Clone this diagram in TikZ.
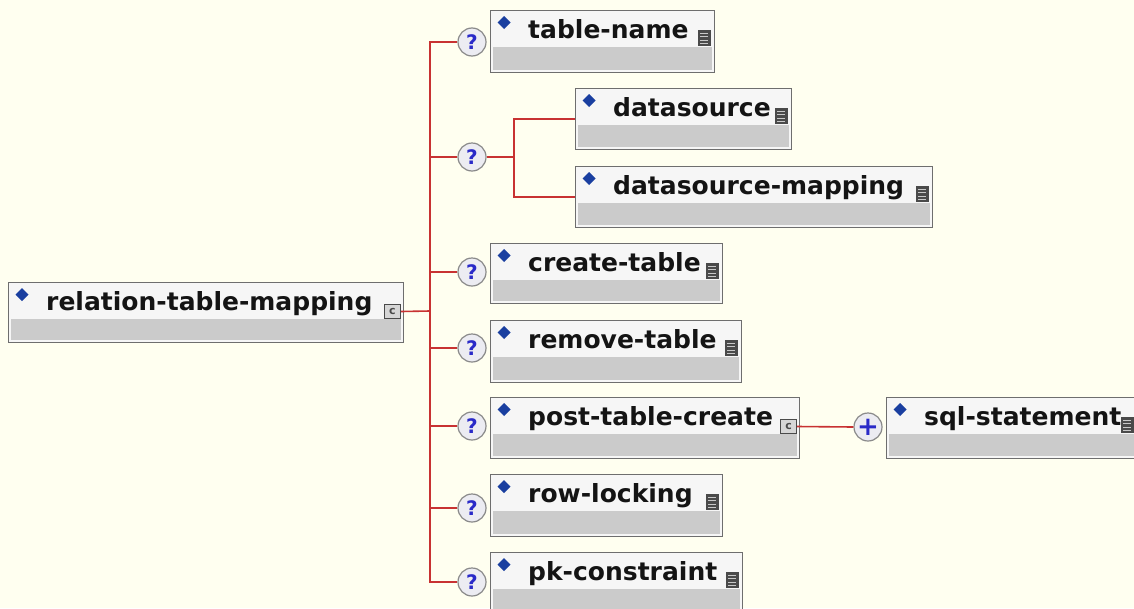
\documentclass[tikz,border=0pt]{standalone}
\usepackage{fontspec}
\setmainfont{DejaVu Sans}
\usetikzlibrary{calc}
\definecolor{bg}{HTML}{FFFFF0}
\definecolor{boxborder}{HTML}{6E6E6E}
\definecolor{headfill}{HTML}{F6F6F6}
\definecolor{bandfill}{HTML}{CBCBCB}
\definecolor{linered}{HTML}{C83232}
\definecolor{dblue}{HTML}{1A3FA0}
\definecolor{qblue}{HTML}{2A2AC8}
\definecolor{circfill}{HTML}{ECECF2}
\definecolor{circborder}{HTML}{8A8A8A}
\definecolor{icondark}{HTML}{4A4A4A}
\definecolor{iconlight}{HTML}{C8C8C8}
\definecolor{cfill}{HTML}{D6D6D6}
\definecolor{txt}{HTML}{141414}
\tikzset{
  elembox/.style={draw=boxborder, line width=1.4pt, fill=headfill, rectangle, inner sep=0pt, anchor=north west},
  lbl/.style={font=\fontsize{25}{30}\selectfont\bfseries, text=txt, inner sep=0pt, anchor=base west},
  conn/.style={draw=linered, line width=1.6pt},
  occ/.style={circle, draw=circborder, line width=1.2pt, fill=circfill, minimum size=28pt, inner sep=0pt, font=\fontsize{20}{20}\selectfont\bfseries, text=qblue},
  docbox/.style={fill=icondark, rectangle, inner sep=0pt, minimum width=13pt, minimum height=16pt, anchor=north east},
  cbox/.style={fill=cfill, draw=icondark, line width=1pt, rectangle, inner sep=0pt, minimum width=16pt, minimum height=14pt, anchor=north east, font=\fontsize{11}{11}\selectfont\bfseries, text=icondark},
}
\newcommand\elem[6]{%
  \node[elembox, minimum width={#4-#2}, minimum height={#5-#3}] (#1) at (#2,#3) {};
  \fill[bandfill] (#2+2.5,#3+37) rectangle (#4-2.5,#5-2.5);
  \fill[dblue] (#2+14,#3+6) -- (#2+20.5,#3+12.5) -- (#2+14,#3+19) -- (#2+7.5,#3+12.5) -- cycle;
  \node[lbl] (#1-t) at (#2+38,#3+28) {#6};
}
\newcommand\docicon[3]{%
  \node[docbox] (#1-i) at (#2-3,#3+20) {};
  \foreach \dy in {3,6.5,10,13.5} {\draw[iconlight, line width=1pt] (#2-14,#3+20+\dy) -- (#2-6,#3+20+\dy);}
}
\newcommand\cplxicon[3]{%
  \node[cbox] (#1-c) at (#2-2,#3+22) {c};
}
\begin{document}
\begin{tikzpicture}[x=1pt,y=-1pt]
\useasboundingbox (0,0) rectangle (1134,608);
\fill[bg] (0,0) rectangle (1134,608);
\begin{scope}
\clip (0,0) rectangle (1134,608);
% elements
\elem{root}{8}{282}{403}{342}{relation-table-mapping}
\cplxicon{root}{403}{282}
\elem{tn}{490}{10}{714}{72}{table-name}
\docicon{tn}{714}{10}
\elem{ds}{575}{88}{791}{149}{datasource}
\docicon{ds}{791}{88}
\elem{dsm}{575}{166}{932}{227}{datasource-mapping}
\docicon{dsm}{932}{166}
\elem{ct}{490}{243}{722}{303}{create-table}
\docicon{ct}{722}{243}
\elem{rt}{490}{320}{741}{382}{remove-table}
\docicon{rt}{741}{320}
\elem{ptc}{490}{397}{799}{458}{post-table-create}
\cplxicon{ptc}{799}{397}
\elem{sql}{886}{397}{1137}{458}{sql-statement}
\docicon{sql}{1137}{397}
\elem{rl}{490}{474}{722}{536}{row-locking}
\docicon{rl}{722}{474}
\elem{pk}{490}{552}{742}{614}{pk-constraint}
\docicon{pk}{742}{552}
% occurrence circles
\node[occ] (q1) at (472,42) {?};
\node[occ] (q2) at (472,157) {?};
\node[occ] (q3) at (472,272) {?};
\node[occ] (q4) at (472,348) {?};
\node[occ] (q5) at (472,426) {?};
\node[occ] (q6) at (472,508) {?};
\node[occ] (q7) at (472,582) {?};
\node[occ, font=\fontsize{26}{26}\selectfont\bfseries] (plus) at (868,427) {+};
% connectors
\coordinate (trunk) at (430,311);
\coordinate (chbr) at (514,157);
\draw[conn] (root-c.east) -- (trunk);
\foreach \q in {q1,q2,q3,q4,q5,q6,q7} {\draw[conn] (\q.west) -| (trunk);}
\draw[conn] (q2.east) -- (chbr);
\draw[conn] (ds.west) -| (chbr);
\draw[conn] (dsm.west) -| (chbr);
\draw[conn] (ptc-c.east) -- (plus.west);
\end{scope}
\end{tikzpicture}
\end{document}
